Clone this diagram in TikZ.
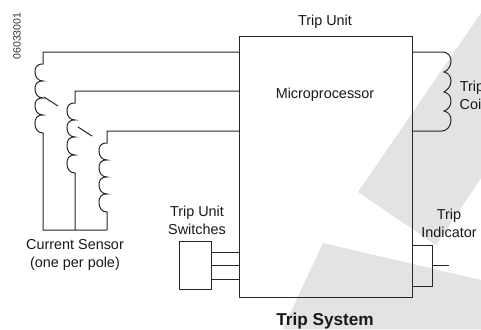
\documentclass[tikz,border=0pt]{standalone}
\usepackage{fontspec}
\setmainfont{Liberation Sans}
\definecolor{wm}{gray}{0.89}
\tikzset{
  wire/.style={draw=black!85,line width=0.75pt},
  lbl/.style={font=\fontsize{10.8pt}{13.5pt}\selectfont,align=center,text=black!90,inner sep=0pt},
}
\begin{document}
\begin{tikzpicture}[x=0.75pt,y=-0.75pt,line join=miter]
\useasboundingbox (0,0) rectangle (481,329);
\fill[white] (0,0) rectangle (481,329);
% watermark
\fill[wm] (481,13) -- (358,192) -- (436,245) -- (481,178) -- cycle;
\fill[wm] (323,243) -- (481,280) -- (481,329) -- (283,329) -- cycle;
% main box
\node[draw=black!85,line width=0.75pt,minimum width=173*0.75pt,minimum height=261*0.75pt,inner sep=0pt,anchor=north west] (mp) at (239,36) {};
\node[lbl] (mptext) at (325,95) {Microprocessor};
\node[lbl] (tu) at (325,22) {Trip Unit};
\node[lbl] (ts) at (325,321) {\bfseries\fontsize{12.9pt}{15pt}\selectfont Trip System};
\node[lbl,rotate=90,text=black!80,font=\fontsize{7.9pt}{8pt}\selectfont] (code) at (17,36) {06033001};
\node[lbl] (cs) at (75,255) {Current Sensor\\(one per pole)};
\node[lbl] (tus) at (197,220) {Trip Unit\\Switches};
\node[lbl] (ti) at (449,223) {Trip\\Indicator};
\node[lbl] (tc) at (472,95) {Trip\\Coil};
% coil 1
\draw[wire] (239,52) -- (43,52) -- (43,64)
  .. controls (36,64) and (35,68) .. (35,72) .. controls (35,77) and (38,81) .. (43,81)
  .. controls (36,81) and (35,85) .. (35,89) .. controls (35,94) and (38,98) .. (43,98)
  .. controls (36,98) and (35,102) .. (35,106) .. controls (35,111) and (38,115) .. (43,115)
  .. controls (36,115) and (35,119) .. (35,124) .. controls (35,129) and (38,133) .. (43,133)
  -- (43,230) -- (107,230);
\draw[wire] (44,97) -- (58,106);
% coil 2
\draw[wire] (239,91) -- (75,91) -- (75,103)
  .. controls (68,103) and (67,107) .. (67,111) .. controls (67,116) and (70,120) .. (75,120)
  .. controls (68,120) and (67,124) .. (67,128) .. controls (67,133) and (70,137) .. (75,137)
  .. controls (68,137) and (67,141) .. (67,146) .. controls (67,151) and (70,155) .. (75,155)
  .. controls (68,155) and (67,159) .. (67,164) .. controls (67,169) and (70,173) .. (75,173)
  -- (75,230);
\draw[wire] (78,127) -- (92,136);
% coil 3
\draw[wire] (239,131) -- (107,131) -- (107,143)
  .. controls (100,143) and (99,147) .. (99,151) .. controls (99,156) and (102,160) .. (107,160)
  .. controls (100,160) and (99,164) .. (99,168) .. controls (99,173) and (102,177) .. (107,177)
  .. controls (100,177) and (99,181) .. (99,185) .. controls (99,190) and (102,194) .. (107,194)
  .. controls (100,194) and (99,198) .. (99,203) .. controls (99,208) and (102,212) .. (107,212)
  -- (107,230);
% trip coil
\draw[wire] (412,52) -- (442,52)
  .. controls (449,52) and (451,57) .. (451,61) .. controls (451,67) and (447,71) .. (444,72)
  .. controls (449,73) and (451,77) .. (451,81) .. controls (451,87) and (447,90) .. (444,92)
  .. controls (449,93) and (451,97) .. (451,101) .. controls (451,107) and (447,110) .. (444,111)
  .. controls (449,112) and (451,116) .. (451,120) .. controls (451,126) and (447,131) .. (442,131)
  -- (412,131);
% switches
\node[draw=black!85,line width=0.75pt,minimum width=32*0.75pt,minimum height=48*0.75pt,inner sep=0pt,anchor=north west] (sw) at (179,241) {};
\draw[wire] (211,252) -- (239,252);
\draw[wire] (211,265) -- (239,265);
\draw[wire] (211,279) -- (239,279);
% indicator
\draw[wire] (412,245) -- (432,245) -- (432,286) -- (412,286);
\draw[wire] (432,265) -- (449,265);
\end{tikzpicture}
\end{document}
